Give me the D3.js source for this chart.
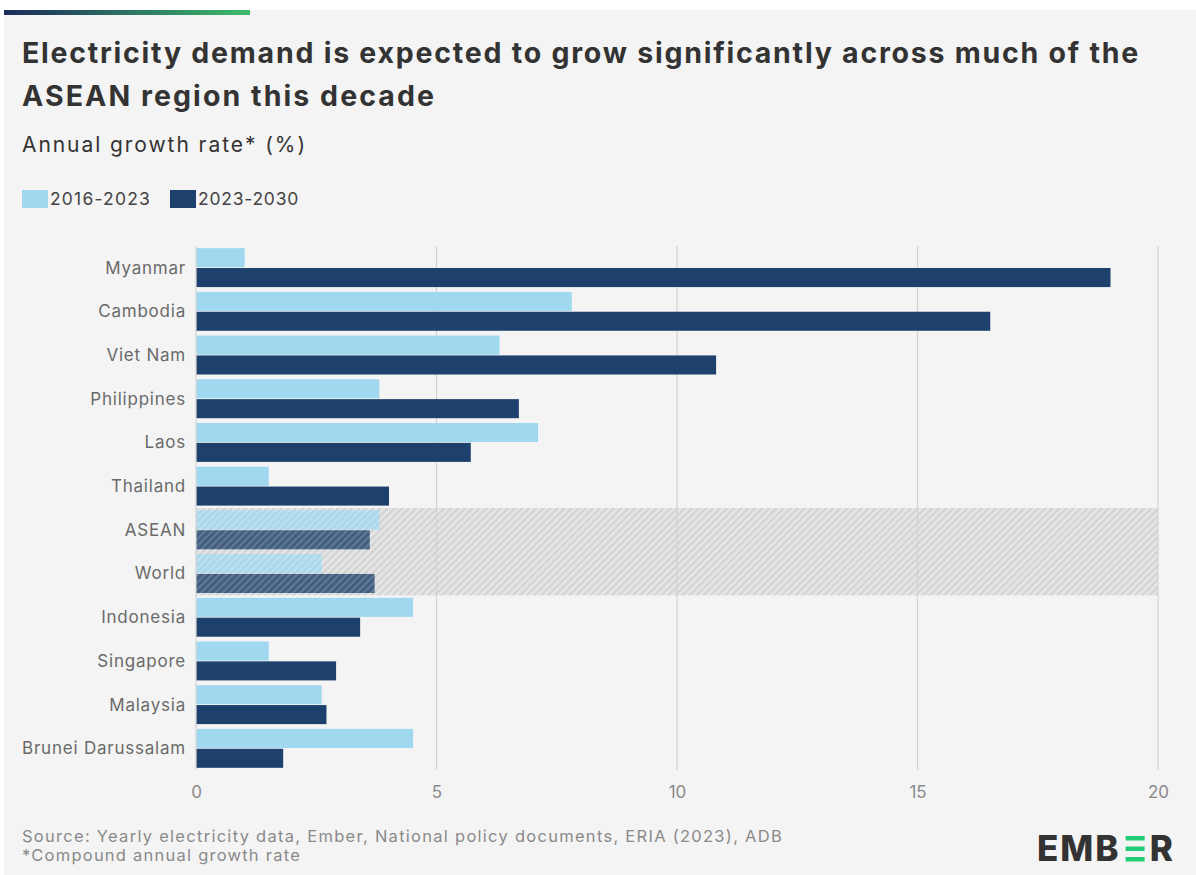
<!DOCTYPE html>
<html>
<head>
<meta charset="utf-8">
<script src="https://cdn.jsdelivr.net/npm/d3@7"></script>
<style>
  body { margin: 0; background: #ffffff; }
  svg { display: block; font-family: Inter, "Noto Sans", sans-serif; }
</style>
</head>
<body>
<div id="chart"></div>
<script>
// data
var countries = ["Myanmar", "Cambodia", "Viet Nam", "Philippines", "Laos", "Thailand",
  "ASEAN", "World", "Indonesia", "Singapore", "Malaysia", "Brunei Darussalam"];
var growth2016 = [1.0, 7.8, 6.3, 3.8, 7.1, 1.5, 3.8, 2.6, 4.5, 1.5, 2.6, 4.5];
var growth2023 = [19.0, 16.5, 10.8, 6.7, 5.7, 4.0, 3.6, 3.7, 3.4, 2.9, 2.7, 1.8];
var seriesNames = ["2016-2023", "2023-2030"];
var xTicks = [0, 5, 10, 15, 20];
var highlighted = ["ASEAN", "World"];

var colors = ["#a0d8f0", "#1e406c"];

var svgWidth = 1196;
var svgHeight = 875;
var margin = { top: 246, right: 38, bottom: 105, left: 196 };
var width = svgWidth - margin.left - margin.right;
var height = svgHeight - margin.top - margin.bottom;

// the reference font is wider than Inter, spread letters to reach its widths
function spreadTo(sel, target) {
  var n = sel.text().length;
  var w = sel.node().getComputedTextLength();
  sel.attr("letter-spacing", (target - w) / n);
  return sel;
}

var svg = d3.select("#chart")
  .append("svg")
  .attr("width", svgWidth)
  .attr("height", svgHeight);

// patterns
var defs = svg.append("defs");
var grad = defs.append("linearGradient").attr("id", "topbar");
grad.append("stop").attr("offset", "0%").attr("stop-color", "#1b2a5a");
grad.append("stop").attr("offset", "100%").attr("stop-color", "#3dbb6a");

var hatch = defs.append("pattern")
  .attr("id", "hatch")
  .attr("patternUnits", "userSpaceOnUse")
  .attr("width", 5).attr("height", 5)
  .attr("patternTransform", "rotate(45)");
hatch.append("rect").attr("width", 5).attr("height", 5).attr("fill", "#e4e4e4");
hatch.append("rect").attr("width", 2).attr("height", 5).attr("fill", "#d2d2d2");

var hatchBar = defs.append("pattern")
  .attr("id", "hatchBar")
  .attr("patternUnits", "userSpaceOnUse")
  .attr("width", 5).attr("height", 5)
  .attr("patternTransform", "rotate(45)");
hatchBar.append("rect").attr("width", 2).attr("height", 5).attr("fill", "rgba(255,255,255,0.15)");

// background panel
svg.append("rect")
  .attr("x", 4).attr("y", 10)
  .attr("width", svgWidth - 4).attr("height", svgHeight - 10)
  .attr("fill", "#f4f4f4");
svg.append("rect")
  .attr("x", 4).attr("y", 10)
  .attr("width", 246).attr("height", 5)
  .attr("fill", "url(#topbar)");

// titles
var t1 = svg.append("text")
  .attr("x", 22).attr("y", 63)
  .attr("font-size", 28.5).attr("font-weight", 700).attr("fill", "#333")
  .text("Electricity demand is expected to grow significantly across much of the");
spreadTo(t1, 1118);
var t2 = svg.append("text")
  .attr("x", 22).attr("y", 106)
  .attr("font-size", 28.5).attr("font-weight", 700).attr("fill", "#333")
  .text("ASEAN region this decade");
spreadTo(t2, 414);
var st = svg.append("text")
  .attr("x", 22).attr("y", 152)
  .attr("font-size", 21).attr("fill", "#333")
  .text("Annual growth rate* (%)");
spreadTo(st, 285);

// legend
var legend = svg.append("g").attr("transform", "translate(22, 190)");
var legendX = [0, 148];
seriesNames.forEach(function(name, i) {
  legend.append("rect")
    .attr("x", legendX[i]).attr("y", 0)
    .attr("width", 26).attr("height", 18)
    .attr("fill", colors[i]);
  var t = legend.append("text")
    .attr("x", legendX[i] + 28).attr("y", 15)
    .attr("font-size", 17.5).attr("fill", "#444")
    .text(name);
  spreadTo(t, 101);
});

var chart = svg.append("g")
  .attr("transform", `translate(${margin.left}, ${margin.top})`);

var xScale = d3.scaleLinear().domain([0, 20]).range([0, width]);
var yScale = d3.scaleBand().domain(countries).range([0, height]).paddingInner(0.11).paddingOuter(0.05);
var ySub = d3.scaleBand().domain([0, 1]).range([0, yScale.bandwidth()]).paddingInner(0.04);

// highlight band
var hlTop = yScale("ASEAN") - yScale.step() * yScale.paddingInner() / 2;
var hlBottom = yScale("World") + yScale.bandwidth() + yScale.step() * yScale.paddingInner() / 2;
chart.append("rect")
  .attr("x", 0).attr("y", hlTop)
  .attr("width", xScale(20)).attr("height", hlBottom - hlTop)
  .attr("fill", "url(#hatch)");

// grid
chart.append("g")
  .selectAll("line")
  .data(xTicks)
  .enter()
  .append("line")
  .attr("x1", d => xScale(d)).attr("x2", d => xScale(d))
  .attr("y1", 0).attr("y2", height)
  .attr("stroke", "#d2d2d2")
  .attr("stroke-width", 1.2);

// bars
var rows = countries.map(function(c, i) {
  return { name: c, values: [growth2016[i], growth2023[i]] };
});

var groups = chart.selectAll(".row")
  .data(rows)
  .enter()
  .append("g")
  .attr("transform", d => `translate(0, ${yScale(d.name)})`);

groups.selectAll("rect.bar")
  .data(d => d.values.map((v, i) => ({ v: v, i: i, hl: highlighted.includes(d.name) })))
  .enter()
  .append("rect")
  .attr("class", "bar")
  .attr("x", 0.6)
  .attr("y", d => ySub(d.i))
  .attr("width", d => xScale(d.v))
  .attr("height", ySub.bandwidth())
  .attr("fill", d => colors[d.i])
  .attr("opacity", d => d.hl ? 0.8 : 1);

groups.filter(d => highlighted.includes(d.name))
  .selectAll("rect.hb")
  .data(d => d.values.map((v, i) => ({ v: v, i: i })))
  .enter()
  .append("rect")
  .attr("x", 0.6)
  .attr("y", d => ySub(d.i))
  .attr("width", d => xScale(d.v))
  .attr("height", ySub.bandwidth())
  .attr("fill", "url(#hatchBar)");

// category labels
var labels = groups.append("text")
  .attr("x", -10)
  .attr("y", yScale.bandwidth() / 2)
  .attr("dy", "0.35em")
  .attr("text-anchor", "end")
  .attr("font-size", 17)
  .attr("fill", "#6a6a6a")
  .text(d => d.name);
var brunei = labels.filter(d => d.name === "Brunei Darussalam");
var bw = brunei.node().getComputedTextLength();
labels.attr("letter-spacing", (164 - bw) / 17);

// x axis
var xAxis = chart.append("g")
  .attr("transform", `translate(0, ${height})`)
  .call(d3.axisBottom(xScale).tickValues(xTicks).tickSize(0).tickPadding(16));
xAxis.select(".domain").remove();
xAxis.selectAll("text")
  .attr("font-size", 17)
  .attr("font-family", "Inter, sans-serif")
  .attr("fill", "#8a8a8a");

// footer
var f1 = svg.append("text")
  .attr("x", 22).attr("y", 842)
  .attr("font-size", 16.5).attr("fill", "#8a8a8a")
  .text("Source: Yearly electricity data, Ember, National policy documents, ERIA (2023), ADB");
spreadTo(f1, 761);
var f2 = svg.append("text")
  .attr("x", 22).attr("y", 861)
  .attr("font-size", 16.5).attr("fill", "#8a8a8a")
  .text("*Compound annual growth rate");
spreadTo(f2, 279);

// logo
var logo = svg.append("g").attr("transform", "translate(1037, 861)");
var emb = logo.append("text")
  .attr("x", 0).attr("y", 0)
  .attr("font-size", 35).attr("font-weight", 800).attr("fill", "#333")
  .attr("letter-spacing", 2)
  .text("EMB");
var ew = emb.node().getComputedTextLength() + 5;
[0, 10.5, 21].forEach(function(dy) {
  logo.append("rect")
    .attr("x", ew).attr("y", -25 + dy)
    .attr("width", 19).attr("height", 4.5)
    .attr("fill", "#22cc77");
});
logo.append("text")
  .attr("x", ew + 24).attr("y", 0)
  .attr("font-size", 35).attr("font-weight", 800).attr("fill", "#333")
  .text("R");
</script>
</body>
</html>
